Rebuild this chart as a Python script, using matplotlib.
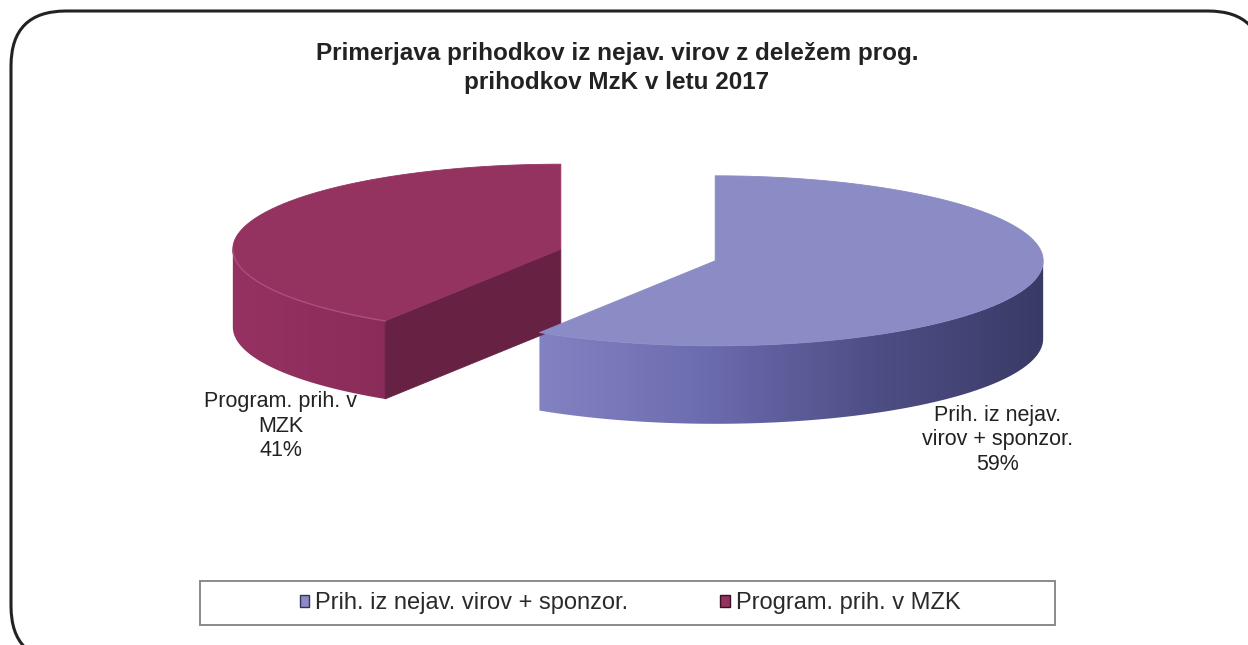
import numpy as np
import matplotlib
matplotlib.use("Agg")
import matplotlib.pyplot as plt
from matplotlib.patches import Polygon, Rectangle, FancyBboxPatch, Patch
from matplotlib.colors import LinearSegmentedColormap

# Chart data
title = "Primerjava prihodkov iz nejav. virov z deležem prog.\nprihodkov MzK v letu 2017"
categories = ["Prih. iz nejav. virov + sponzor.", "Program. prih. v MZK"]
slice_labels = ["Prih. iz nejav.\nvirov + sponzor.", "Program. prih. v\nMZK"]
values = [59, 41]

# Colours (top face, side face, cut face)
top_colors = ["#8B8BC6", "#953360"]
cut_colors = ["#5A5A90", "#672142"]
rim_cmaps = [
    LinearSegmentedColormap.from_list("rim0", ["#8383C3", "#6B6BAF", "#4E4E86", "#3A3A66"]),
    LinearSegmentedColormap.from_list("rim1", ["#963262", "#902F5D", "#8A2C59"]),
]

plt.rcParams["font.family"] = ["Liberation Sans", "DejaVu Sans"]

fig = plt.figure(figsize=(12.48, 6.45), dpi=100)
ax = fig.add_axes([0, 0, 1, 1])
ax.set_xlim(0, 1248)
ax.set_ylim(645, 0)
ax.axis("off")

# outer rounded border
ax.add_patch(FancyBboxPatch((11, 11), 1252, 650,
                            boxstyle="round,pad=0,rounding_size=55",
                            fc="white", ec="#222222", lw=2.2, zorder=0))

# pie geometry (screen pixels)
cx0, cy0 = 638, 255
a, b, depth = 328, 85, 78
explode = 0.245


def pt(cx, cy, t):
    return cx + a * np.cos(t), cy - b * np.sin(t)


total = float(sum(values))
angles = [90.0]
for v in values:
    angles.append(angles[-1] - 360.0 * v / total)

slices = []
for i, v in enumerate(values):
    t0, t1 = np.radians(angles[i]), np.radians(angles[i + 1])
    mid = (t0 + t1) / 2
    cx = cx0 + explode * a * np.cos(mid)
    cy = cy0 - explode * b * np.sin(mid)
    slices.append((cx, cy, t0, t1))

grad = np.linspace(0, 1, 256).reshape(1, -1)

# draw slices from back/left to front/right
order = [1, 0]
for i in order:
    cx, cy, t0, t1 = slices[i]
    ts = np.linspace(t0, t1, 400)
    # outer rim, only front part (sin < 0)
    front = ts[np.sin(ts) <= 1e-9]
    if len(front) > 1:
        xs, ys = pt(cx, cy, front)
        rim = list(zip(xs, ys)) + list(zip(xs[::-1], ys[::-1] + depth))
        rim_patch = Polygon(rim, closed=True, fc="none", ec="none", zorder=2)
        ax.add_patch(rim_patch)
        x_lo = xs.min()
        x_hi = cx + a if i == 0 else xs.max()
        im = ax.imshow(grad, cmap=rim_cmaps[i], aspect="auto",
                       extent=(x_lo - 2, x_hi + 2, ys.max() + depth + 2, ys.min() - 2),
                       zorder=2, interpolation="bilinear")
        im.set_clip_path(rim_patch)
    # cut faces facing the viewer
    for t, sgn in ((t0, 1), (t1, -1)):
        normal = t + sgn * np.pi / 2
        if np.sin(normal) < -1e-6:
            ex, ey = pt(cx, cy, t)
            face = [(cx, cy), (ex, ey), (ex, ey + depth), (cx, cy + depth)]
            ax.add_patch(Polygon(face, closed=True, fc=cut_colors[i],
                                 ec=cut_colors[i], lw=0.6, zorder=2.5))
    # top face
    xs, ys = pt(cx, cy, ts)
    top = [(cx, cy)] + list(zip(xs, ys))
    ax.add_patch(Polygon(top, closed=True, fc=top_colors[i],
                         ec=top_colors[i], lw=0.6, zorder=3))
    if i == 1 and len(front) > 1:
        fx, fy = pt(cx, cy, front)
        ax.plot(fx, fy, color="#A9507F", lw=1.0, zorder=3.5)

# data labels
label_pos = [(998, 440), (281, 426)]
for i, v in enumerate(values):
    ax.text(label_pos[i][0], label_pos[i][1], f"{slice_labels[i]}\n{v}%",
            ha="center", va="center", fontsize=15.5, color="#222222",
            linespacing=1.22, zorder=5)

# title
ax.text(617, 68, title, ha="center", va="center", fontsize=17.5,
        fontweight="bold", color="#222222", linespacing=1.3)

# legend
ax.add_patch(Rectangle((200, 581), 855, 44, fc="white", ec="#8a8a8a",
                       lw=1.4, zorder=4))
handles = [Patch(fc=top_colors[i], ec="#333355" if i == 0 else "#3a1020", lw=1.0)
           for i in range(len(values))]
leg = ax.legend(handles, categories, ncol=2, frameon=False,
                loc="center", bbox_to_anchor=(630 / 1248, 1 - 603 / 645),
                fontsize=17, handlelength=0.4, handleheight=0.4,
                handletextpad=0.25, columnspacing=3.9, borderaxespad=0)
for txt in leg.get_texts():
    txt.set_color("#2a2a2a")
leg.set_zorder(6)

fig.savefig("out.png", dpi=100)
